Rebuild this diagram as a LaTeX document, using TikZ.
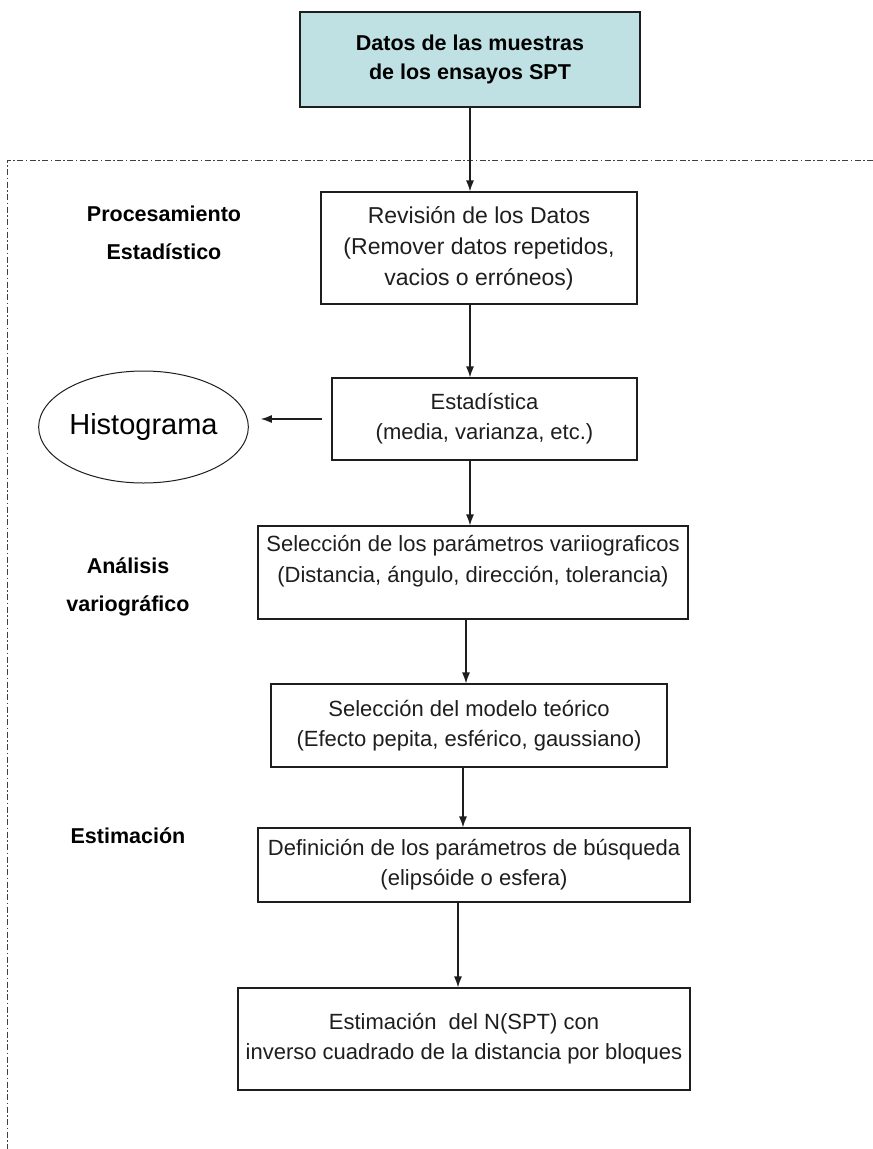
\documentclass[tikz,border=0pt]{standalone}
\usepackage{fontspec}
\setmainfont{Liberation Sans}
\usetikzlibrary{arrows.meta,shapes.geometric}
\definecolor{topfill}{RGB}{191,225,228}
\definecolor{inkc}{RGB}{30,30,30}
\begin{document}
\begin{tikzpicture}[x=1pt,y=-1pt,
  box/.style={draw=inkc,line width=1.2pt,rectangle,inner sep=0pt,align=center,
    font=\fontsize{22}{30}\selectfont,text=inkc},
  txt/.style={align=center,font=\fontsize{22}{31}\selectfont,text=inkc,inner sep=0pt},
  lbl/.style={align=center,font=\fontsize{21.5}{38}\selectfont\bfseries,text=black,inner sep=0pt},
  arr/.style={draw=inkc,line width=1.2pt,-{Latex[length=11pt,width=8pt]}},
  frame/.style={draw=black!75,line width=1pt,dash pattern=on 6pt off 2.5pt on 1.5pt off 2.5pt}]
\useasboundingbox (0,0) rectangle (873,1149);
\fill[white] (0,0) rectangle (873,1149);

% frame
\draw[frame] (873,160) -- (7,160) -- (7,1149);

% boxes
\node[box,fill=topfill,minimum width=340pt,minimum height=95pt,
  font=\fontsize{21.5}{29}\selectfont\bfseries,text=black] (top) at (470,59.5)
  {Datos de las muestras\\ de los ensayos SPT};
\node[box,minimum width=316pt,minimum height=112pt,font=\fontsize{23}{31}\selectfont] (b2) at (479,248)
  {Revisión de los Datos\\(Remover datos repetidos,\\vacios o erróneos)};
\node[box,minimum width=305pt,minimum height=82pt] (b3) at (484.5,419)
  {Estadística\\(media, varianza, etc.)};
\node[box,minimum width=430pt,minimum height=93pt] (b4) at (473,572.5) {};
\node[txt] (t4) at (473,561)
  {Selección de los parámetros variiograficos\\(Distancia, ángulo, dirección, tolerancia)};
\node[box,minimum width=396pt,minimum height=83pt] (b5) at (469,725.5)
  {Selección del modelo teórico\\(Efecto pepita, esférico, gaussiano)};
\node[box,minimum width=432pt,minimum height=74pt] (b6) at (474,865)
  {Definición de los parámetros de búsqueda\\(elipsóide o esfera)};
\node[box,minimum width=452pt,minimum height=102pt] (b7) at (464,1039)
  {Estimación\ \ del N(SPT) con\\inverso cuadrado de la distancia por bloques};

% ellipse
\node[draw=inkc,line width=1pt,ellipse,minimum width=207pt,minimum height=112pt,inner sep=0pt,
  font=\fontsize{29}{34}\selectfont,text=black] (hist) at (143.5,427) {Histograma};

% side labels
\node[lbl] (lp) at (164,233) {Procesamiento\\Estadístico};
\node[lbl] (la) at (128,587) {Análisis\\variográfico};
\node[lbl] (le) at (128,836) {Estimación};

% arrow columns
\coordinate (c1) at (470,0);
\coordinate (c2) at (466,0);
\coordinate (c3) at (463,0);
\coordinate (c4) at (458,0);
\coordinate (hs) at ([xshift=-9pt]b3.west);

% connectors
\draw[arr] (top.south -| c1) -- (b2.north -| c1);
\draw[arr] (b2.south -| c1) -- (b3.north -| c1);
\draw[arr] (b3.south -| c1) -- (b4.north -| c1);
\draw[arr] (b4.south -| c2) -- (b5.north -| c2);
\draw[arr] (b5.south -| c3) -- (b6.north -| c3);
\draw[arr] (b6.south -| c4) -- (b7.north -| c4);
\draw[arr,shorten >=12pt] (hs) -- (hs -| hist.east);
\end{tikzpicture}
\end{document}
